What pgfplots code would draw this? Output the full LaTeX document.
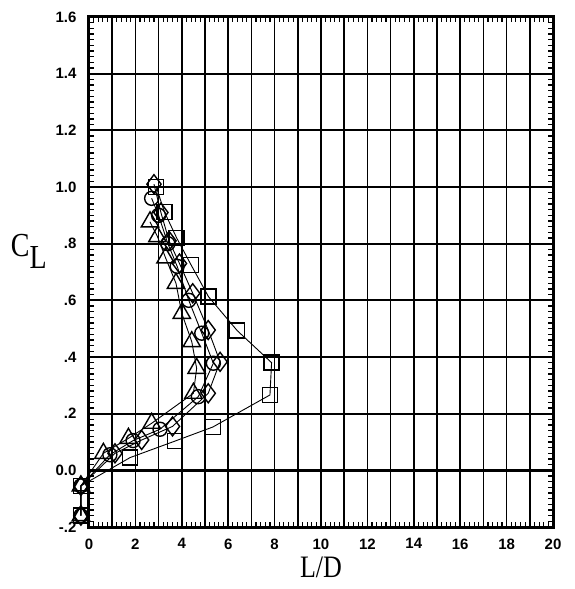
\documentclass[border=0pt]{standalone}
\usepackage{fontspec}
\setmainfont{Liberation Serif}
\newfontfamily\tickfont{Liberation Sans}
\usepackage{pgfplots}
\pgfplotsset{compat=1.18}
\begin{document}
\begin{tikzpicture}
\useasboundingbox (-89pt,-62pt) rectangle (486pt,527pt);
\begin{axis}[
 scale only axis, width=464pt, height=510pt,
 xmin=0,xmax=20,ymin=-0.2,ymax=1.6,
 clip=false,
 xtick={0,2,...,20}, xticklabels={0,2,4,6,8,10,12,14,16,18,20},
 ytick={-0.2,0,0.2,...,1.6}, yticklabels={-.2,0.0,.2,.4,.6,.8,1.0,1.2,1.4,1.6},
 minor x tick num=1, minor y tick num=1,
 grid=both,
 major grid style={black,line width=1.7pt},
 minor grid style={black,line width=1.7pt},
 axis line style={line width=3pt},
 tick style={black,line width=1.1pt},
 major tick length=8pt, minor tick length=8pt,
 tick label style={font=\tickfont\bfseries\fontsize{15}{17}\selectfont},
 xticklabel style={yshift=-8pt}, yticklabel style={xshift=-9pt},
 extra x ticks={0,0.2,...,20}, extra x tick labels={},
 extra x tick style={grid=none, major tick length=5pt},
 extra y ticks={-0.2,-0.18,...,1.6}, extra y tick labels={},
 extra y tick style={grid=none, major tick length=5pt},
 every axis plot/.append style={black, line width=0.9pt, mark options={solid, line width=1.4pt, fill=none}},
]
\draw[line width=2.8pt] (axis cs:0,0) -- (axis cs:20,0);
% squares
\addplot[mark=square, mark size=7.5pt] coordinates {
(-0.35,-0.16) (-0.35,-0.055) (1.77,0.045) (3.7,0.103) (5.34,0.153) (7.8,0.266) (7.87,0.38) (6.39,0.493) (5.15,0.613) (4.4,0.725) (3.78,0.82) (3.25,0.912) (2.9,1.0)};
% diamonds
\addplot[mark=diamond, mark size=9.5pt] coordinates {
(-0.35,-0.16) (-0.35,-0.055) (1.12,0.06) (2.27,0.107) (3.6,0.155) (5.14,0.272) (5.65,0.383) (5.14,0.495) (4.47,0.625) (3.9,0.73) (3.45,0.81) (3.1,0.91) (2.8,1.01)};
% circles
\addplot[mark=o, mark size=7pt] coordinates {
(-0.35,-0.16) (-0.35,-0.055) (0.9,0.055) (1.9,0.105) (3.06,0.145) (4.71,0.26) (5.36,0.378) (4.86,0.484) (4.3,0.6) (3.8,0.72) (3.4,0.8) (3.0,0.9) (2.7,0.96)};
% triangles
\addplot[mark=triangle, mark size=10pt] coordinates {
(-0.35,-0.16) (-0.35,-0.055) (0.62,0.06) (1.7,0.113) (2.7,0.166) (4.5,0.272) (4.64,0.36) (4.43,0.454) (4.0,0.554) (3.75,0.66) (3.3,0.75) (2.95,0.825) (2.63,0.877)};
\node at (rel axis cs:0.5,0) [yshift=-40pt] {\scalebox{1}[1.2]{\fontsize{26}{30}\selectfont L/D}};
\node at (rel axis cs:0,0.54) [xshift=-60pt] {\scalebox{1}[1.2]{\fontsize{28}{32}\selectfont C$_{\textstyle\mathrm{L}}$}};
\end{axis}
\end{tikzpicture}
\end{document}
